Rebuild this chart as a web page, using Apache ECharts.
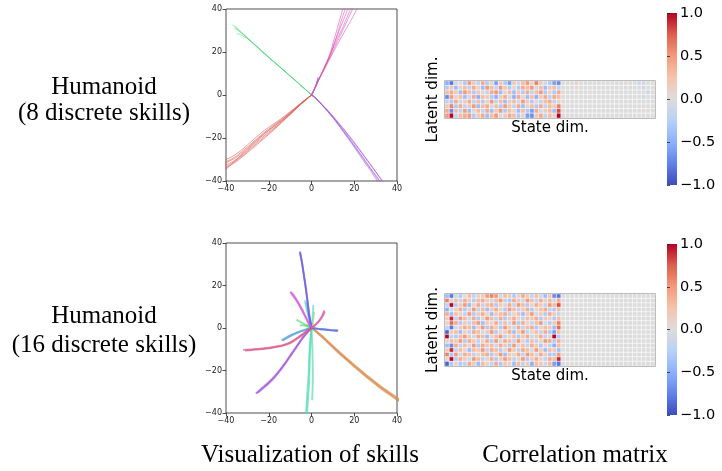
<!DOCTYPE html>
<html><head><meta charset="utf-8">
<script src="https://cdn.jsdelivr.net/npm/echarts/dist/echarts.min.js"></script>
<style>html,body{margin:0;padding:0;background:#fff}#c{width:722px;height:471px}</style>
</head><body><div id="c"></div>
<script>
// ---------- tick labels ----------
const trajTicks = [-40, -20, 0, 20, 40];
const cbTicks = [-1.0, -0.5, 0.0, 0.5, 1.0];
const stateDimCount = 47;

// ---------- texts ----------
const rowLabels = [["Humanoid", "(8 discrete skills)"], ["Humanoid", "(16 discrete skills)"]];
const colTitles = ["Visualization of skills", "Correlation matrix"];

// ---------- skill trajectories, 8 skills (x, y) ----------
const topColors = ['#db5f57','#dbc257','#91db57','#57db80','#57d3db','#5770db','#a157db','#db57b2'];
const topSkill0 = [
 [[0,0],[-2,-1.5],[-5,-3.8],[-8,-6.2],[-12,-9.3],[-16,-12.3],[-20,-15],[-24,-18],[-28,-21.5],[-32,-25],[-36,-28],[-41,-30.5]],
 [[0,0],[-2,-1.6],[-5,-4],[-8,-6.6],[-12,-10],[-16,-13.2],[-20,-16.2],[-24,-19.5],[-28,-23],[-32,-26.5],[-36,-29.5],[-41,-32]],
 [[0,0],[-2,-1.7],[-5,-4.2],[-8,-7],[-12,-10.5],[-16,-14],[-20,-17.2],[-24,-20.5],[-28,-24],[-32,-27.5],[-36,-30.5],[-41,-33]],
 [[0,0],[-2,-1.8],[-5,-4.4],[-8,-7.3],[-12,-11],[-16,-14.8],[-20,-18.3],[-24,-21.8],[-28,-25.2],[-32,-28.5],[-36,-31.5],[-41,-34.5]],
 [[0,0],[-2,-1.6],[-5,-4.1],[-8,-6.8],[-12,-10.3],[-16,-13.5],[-20,-16.5],[-24,-19.8],[-28,-23.5],[-32,-27],[-36,-30.8],[-41,-34]],
 [[0,0],[-2,-1.5],[-5,-3.9],[-8,-6.4],[-12,-9.8],[-16,-12.8],[-20,-15.8],[-24,-19],[-28,-22.5],[-32,-25.8],[-36,-29],[-41,-31.5]],
 [[0,0],[-2,-1.7],[-5,-4.3],[-8,-7.1],[-12,-10.8],[-16,-14.4],[-20,-17.8],[-24,-21.2],[-28,-24.6],[-32,-28],[-36,-31],[-41,-35.5]]
];
const topSkill1 = [[[0,0],[0.5,-0.4],[1,-1],[1.3,-1.6]]];
const topSkill2 = [[[0,0],[0.3,0.6],[0.5,1.3]]];
const topSkill3 = [
 [[0,0],[-4,3.6],[-8,7.2],[-12,10.7],[-16,14],[-20,17.4],[-24,20.9],[-28,24.5],[-32,28.2],[-35,30.8],[-37,32.7]],
 [[0,0],[-4,3.5],[-8,7],[-12,10.5],[-16,14],[-20,17.5],[-24,21],[-28,24.8],[-31,27.5],[-34,29.8],[-36,31]],
 [[0,0],[-4,3.6],[-8,7.1],[-12,10.6],[-16,14.1],[-20,17.6],[-24,21.1],[-27,23.8],[-30,26.2],[-33,28],[-35,28.5]],
 [[0,0],[-4,3.6],[-8,7.2],[-12,10.7],[-16,14.2],[-20,17.7],[-24,21.3],[-28,24.8],[-31,27.5],[-33,29.5],[-36,32.3]]
];
const topSkill4 = [[[0,0],[-0.4,0.5],[-0.8,1.1]]];
const topSkill5 = [
 [[0,0],[0.8,1.5],[1.6,3.5],[2.3,5.5],[2.8,7.5],[3,8.3]],
 [[0,0],[0.9,1.6],[1.7,3.6],[2.4,5.6],[3,7.4],[3.3,8]]
];
const topSkill6 = [
 [[0,0],[1.5,-1],[3,-2.5],[5,-4.7],[7.5,-7.4],[10,-10.3],[12.5,-13.4],[15,-16.6],[17.5,-19.9],[20,-23.3],[22.5,-26.8],[25,-30.3],[27.5,-33.8],[30,-37.2],[32,-40],[33,-41.5]],
 [[0,0],[1.5,-1],[3,-2.5],[5,-4.6],[7.5,-7.2],[10,-10],[12.5,-13],[15,-16],[17.5,-19.2],[20,-22.4],[22.5,-25.7],[25,-29],[27.5,-32.4],[30,-35.8],[33,-40],[34,-41.5]],
 [[0,0],[1.5,-1],[3,-2.6],[5,-4.8],[7.5,-7.6],[10,-10.6],[12.5,-13.9],[15,-17.3],[17.5,-20.8],[20,-24.3],[22.5,-27.9],[25,-31.5],[27.5,-35],[30.5,-39.5],[31.5,-41]],
 [[0,0],[1.5,-1.1],[3,-2.6],[5,-4.7],[7.5,-7.5],[10,-10.4],[12.5,-13.6],[15,-16.9],[17.5,-20.3],[20,-23.7],[22.5,-27.2],[25,-30.7],[27.5,-34.2],[30.5,-38.5],[32.5,-41]],
 [[0,0],[1.5,-1],[3,-2.4],[5,-4.5],[7.5,-7],[10,-9.8],[12.5,-12.7],[15,-15.7],[17.5,-18.8],[20,-22],[22.5,-25.3],[25,-28.7],[27.5,-32.1],[30.5,-36.3],[33.5,-40.2],[35,-41.5]]
];
const topSkill7 = [
 [[0,0],[1,2],[2.2,4.5],[3.5,7.5],[5,10.5],[6.5,14],[8,17.5],[9.2,21],[10.2,24.5],[11.2,28],[12.2,31.5],[13.2,35],[14.2,38.5],[15,41]],
 [[0,0],[1,2],[2.2,4.5],[3.6,7.6],[5.2,10.8],[6.8,14.3],[8.4,17.8],[9.8,21.3],[11,24.8],[12.3,28.2],[13.6,31.6],[15,35],[16.4,38.5],[17.4,41]],
 [[0,0],[1,2],[2.3,4.6],[3.7,7.7],[5.4,11],[7.2,14.6],[9,18.2],[10.6,21.6],[12.2,25],[13.8,28.4],[15.4,31.8],[17,35.2],[18.6,38.6],[19.8,41]],
 [[0,0],[1,2],[2.3,4.6],[3.8,7.8],[5.6,11.2],[7.6,15],[9.5,18.6],[11.3,22],[13.2,25.5],[15.2,29],[17.2,32.5],[19.2,36],[21,39.5],[22,41]],
 [[0,0],[1,2],[2.2,4.5],[3.6,7.7],[5.3,11],[7,14.5],[8.6,18],[10,21.5],[11.6,25],[13.3,28.6],[15,32.3],[16.5,35.8],[18,39.3],[19,41]],
 [[0,0],[1,2],[2.2,4.5],[3.5,7.6],[5,10.8],[6.6,14.2],[8.2,17.6],[9.6,21],[10.8,24.5],[12,28],[13,31.4],[14,34.8],[15.2,38.3],[16.2,41]]
];
const topSkills = [topSkill0, topSkill1, topSkill2, topSkill3, topSkill4, topSkill5, topSkill6, topSkill7];

// ---------- skill trajectories, 16 skills (x, y) ----------
const btmColors = ['#db5f57','#db9157','#dbc257','#c2db57','#91db57','#5fdb57','#57db80','#57dbb2',
                   '#57d3db','#57a1db','#5770db','#7057db','#a157db','#d357db','#db57b2','#db5780'];
const btmSkill0 = [[[0,0],[-0.8,-0.4],[-1.5,-0.9]]];
const btmSkill1 = [
 [[0,0],[1.5,-1],[3,-2.3],[5,-4],[7.5,-6.4],[10,-8.8],[12.5,-11.1],[15,-13.4],[17.5,-15.6],[20,-17.8],[22.5,-19.9],[25,-22],[27.5,-24],[30,-26],[32.5,-28],[35,-29.8],[37.5,-31.5],[40,-33.2],[41,-34]],
 [[0,0],[1.5,-1.1],[3,-2.5],[5,-4.3],[7.5,-6.7],[10,-9.1],[12.5,-11.5],[15,-13.8],[17.5,-16],[20,-18.2],[22.5,-20.4],[25,-22.5],[27.5,-24.5],[30,-26.5],[32.5,-28.5],[35,-30.3],[37.5,-32],[40,-33.8],[41,-34.5]],
 [[0,0],[1.5,-0.9],[3,-2.2],[5,-3.8],[7.5,-6.2],[10,-8.5],[12.5,-10.8],[15,-13],[17.5,-15.2],[20,-17.4],[22.5,-19.5],[25,-21.6],[27.5,-23.6],[30,-25.6],[32.5,-27.5],[35,-29.3],[37.5,-31],[40,-32.7],[41,-33.4]]
];
const btmSkill2 = [[[0,0],[0.5,1],[0.9,2.2]]];
const btmSkill3 = [[[0,0],[0.4,2],[0.8,4],[1.1,6],[1.2,7.5]]];
const btmSkill4 = [[[0,0],[-0.6,0.8],[-1.1,1.7]]];
const btmSkill5 = [[[0,0],[-1.2,1],[-2.5,1.6]]];
const btmSkill6 = [
 [[0,0],[-1.5,0.8],[-3,1.6],[-4.5,2.5],[-6,3.3],[-7,4]],
 [[0,0],[-1.5,0.6],[-3,1.1],[-4.5,1.3],[-5.5,1.2]]
];
const btmSkill7 = [
 [[0,0],[-0.3,-3],[-0.6,-6],[-0.8,-9],[-1,-12],[-1.1,-15],[-1.2,-18],[-1.3,-21],[-1.5,-24],[-1.7,-27],[-1.9,-30],[-2.1,-33],[-2.3,-36],[-2.5,-39],[-2.6,-41]],
 [[0,0],[-0.2,-3],[-0.4,-6],[-0.6,-9],[-0.7,-12],[-0.8,-15],[-0.9,-18],[-1,-21],[-1.1,-24],[-1.2,-27],[-1.4,-30],[-1.6,-33],[-1.8,-36],[-2,-39],[-2.1,-41]],
 [[0,0],[0.2,-4],[0.4,-9],[0.5,-14],[0.6,-19],[0.6,-24],[0.5,-29],[0.3,-34]]
];
const btmSkill8 = [
 [[0,0],[-0.8,3],[-1.6,6],[-2.3,9],[-2.8,11.5],[-3,13]],
 [[0,0],[-0.6,3],[-1.3,6],[-1.9,9],[-2.3,11],[-2.5,12]],
 [[0,0],[0.3,3],[0.6,6],[0.8,9],[0.8,10.7]]
];
const btmSkill9 = [
 [[0,0],[-2,-0.5],[-4,-1.1],[-6,-1.8],[-8,-2.6],[-10,-3.5],[-12,-4.6],[-14,-5.8]],
 [[0,0],[-2,-0.6],[-4,-1.3],[-6,-2],[-8,-2.9],[-10,-3.9],[-12,-5],[-13.5,-6]]
];
const btmSkill10 = [
 [[0,0],[2,-0.2],[4,-0.4],[6,-0.6],[8,-0.8],[10,-1],[12.5,-1.2]],
 [[0,0],[2,-0.3],[4,-0.6],[6,-0.8],[8,-1],[10,-1.2],[12.3,-1.4]]
];
const btmSkill11 = [
 [[0,0],[-0.6,3],[-1.1,6],[-1.6,10],[-2.1,14],[-2.6,18],[-3.1,21.5],[-3.7,25.5],[-4.3,29.5],[-4.9,33],[-5.5,36]],
 [[0,0],[-0.5,3],[-1,6],[-1.5,10],[-2,14],[-2.5,18],[-3,21.5],[-3.6,25.5],[-4.2,29.5],[-4.8,33],[-5.3,35.5]]
];
const btmSkill12 = [
 [[0,0],[-1.5,-1.5],[-3,-3.2],[-4.5,-5],[-6,-7.2],[-7.5,-9.4],[-9,-11.6],[-10.5,-13.8],[-12,-16],[-13.5,-18],[-15,-20],[-16.5,-21.8],[-18,-23.5],[-20,-25.5],[-22,-27.3],[-24,-29],[-26,-30.8]],
 [[0,0],[-1.5,-1.6],[-3,-3.4],[-4.5,-5.3],[-6,-7.5],[-7.5,-9.7],[-9,-11.9],[-10.5,-14.1],[-12,-16.3],[-13.5,-18.4],[-15,-20.4],[-16.5,-22.3],[-18,-24],[-20,-26],[-22,-27.8],[-24,-29.5],[-25.5,-30.6]]
];
const btmSkill13 = [
 [[0,0],[-1.5,2.5],[-3,5.5],[-4.5,8.5],[-6,11.2],[-7.5,13.5],[-9,15.6],[-10,17]],
 [[0,0],[-1.4,2.6],[-2.9,5.7],[-4.4,8.8],[-5.9,11.5],[-7.3,13.9],[-8.7,15.9],[-9.6,16.8]]
];
const btmSkill14 = [
 [[0,0],[1.5,1.2],[3,2.8],[4.3,4.6],[5.3,6.4],[6,8.3]],
 [[0,0],[1.5,1.1],[3,2.6],[4.4,4.3],[5.5,6.1],[6.2,7.8]]
];
const btmSkill15 = [
 [[0,0],[-2,-1.3],[-4,-2.8],[-6,-4.2],[-8,-5.6],[-10,-6.8],[-13,-7.9],[-16,-8.6],[-19,-9.1],[-22,-9.5],[-25,-9.8],[-28,-10.1],[-32,-10.3]],
 [[0,0],[-2,-1.4],[-4,-3],[-6,-4.5],[-8,-5.9],[-10,-7.1],[-13,-8.2],[-16,-8.9],[-19,-9.4],[-22,-9.8],[-25,-10.1],[-28,-10.4],[-31,-10.6]]
];
const btmSkills = [btmSkill0,btmSkill1,btmSkill2,btmSkill3,btmSkill4,btmSkill5,btmSkill6,btmSkill7,
                   btmSkill8,btmSkill9,btmSkill10,btmSkill11,btmSkill12,btmSkill13,btmSkill14,btmSkill15];

// ---------- correlation matrices (values x10), rows = latent dim, cols = state dim ----------
const corr8 = [
 [-5,-8,-1,0,-3,5,2,-2,4,-3,1,-6,2,-3,-6,2,-1,3,5,1,6,2,-1,-3,-6,-7, 0,0,0,1,0,0,0,0,0,0,0,0,0,0,0,0,0,-1,-1,0,0],
 [-3,2,-4,1,3,-2,4,1,-4,5,3,-2,5,2,-3,1,-3,4,3,5,-1,3,-4,2,3,-2, 0,0,0,0,0,0,0,0,0,0,0,0,0,0,0,0,0,0,-1,0,0],
 [3,4,2,-4,5,3,-3,2,1,-2,4,5,-4,1,3,-4,2,-3,4,-2,3,5,-3,1,-3,4, 0,0,0,0,0,0,0,0,0,0,0,0,0,0,0,0,0,0,0,-1,0],
 [-7,5,1,3,-4,-1,4,-5,3,2,-3,-5,2,4,-1,-5,4,1,-4,3,-5,2,4,-2,4,3, 0,0,0,0,0,0,0,0,0,0,0,0,0,0,0,0,0,0,-1,0,0],
 [-2,-3,4,-1,2,4,-2,3,-3,1,5,-2,3,-4,2,3,-1,5,2,-3,1,-2,3,4,-2,1, 0,0,0,0,0,0,0,0,0,0,0,0,0,0,0,0,0,0,0,0,0],
 [2,6,-3,4,-2,2,5,-4,3,4,-1,3,-3,5,2,-2,4,-4,1,3,-3,4,-2,3,2,6, 0,0,0,0,0,0,0,0,0,0,0,0,0,0,0,0,0,0,0,0,0],
 [4,-7,3,-2,5,-4,1,3,-2,4,-4,2,5,-3,3,1,-4,3,-3,-6,4,-1,2,3,-4,8, 0,0,0,0,0,0,0,0,0,0,0,0,0,0,0,0,0,0,0,0,0],
 [5,10,-2,3,4,5,-3,2,4,-4,3,5,-1,2,4,3,-3,1,-6,-7,2,4,-2,3,1,10, 0,0,0,0,0,0,0,0,0,0,0,0,0,0,0,0,0,0,0,0,0]
];
const corr16 = [
 [-4,-8,-1,-3,0,3,-2,1,2,5,6,5,-1,3,2,-3,1,4,2,-2,3,-1,-4,2,-7,-8, 0,0,0,0,0,0,0,0,0,0,0,0,0,0,0,0,0,0,0,0,0],
 [6,1,3,-2,4,2,-3,3,4,2,-1,3,5,-2,-3,4,2,-1,5,3,-2,4,1,3,-1,4, 0,0,0,0,0,0,0,0,0,0,0,0,0,0,0,0,0,0,0,0,0],
 [-2,10,-3,2,5,-4,1,4,-2,3,4,-3,2,1,4,-2,5,3,-3,1,4,2,-2,5,3,8, 0,0,0,0,0,0,0,0,0,0,0,0,0,0,0,0,0,0,0,0,0],
 [-5,-1,2,4,-3,1,5,-2,3,-4,2,4,1,-3,5,3,-2,2,4,-3,1,3,4,-2,-3,3, 0,0,0,0,0,0,0,0,0,0,0,0,0,0,0,0,0,0,0,0,0],
 [4,-4,3,1,-2,5,-3,2,4,1,-4,2,3,4,-2,1,3,-4,2,5,-1,2,-3,4,2,-2, 0,0,0,0,0,0,0,0,0,0,0,0,0,0,0,0,0,0,0,0,0],
 [2,9,-2,5,3,-1,4,-3,1,5,3,-2,4,-3,2,4,1,-2,3,2,4,-3,2,1,-3,3, 0,0,0,0,0,0,0,0,0,0,0,0,0,0,0,0,0,0,0,0,0],
 [1,7,4,-3,2,-2,3,5,-4,2,1,4,-2,3,-1,5,-3,4,1,-2,3,5,-1,-3,2,6, 0,0,0,0,0,0,0,0,0,0,0,0,0,0,0,0,0,0,0,0,0],
 [-2,-8,-1,2,4,3,-4,1,5,-3,4,2,-3,5,2,-1,4,-2,3,4,-3,1,3,2,-4,7, 0,0,0,0,0,0,0,0,0,0,0,0,0,0,0,0,0,0,0,0,0],
 [-9,2,3,-4,1,-2,4,3,-1,2,5,-3,1,2,4,-4,2,5,-2,1,3,-2,4,-3,-6,3, 0,0,0,0,0,0,0,0,0,0,0,0,0,0,0,0,0,0,0,0,0],
 [10,-2,-3,3,5,2,-1,4,3,-4,1,3,5,-2,1,3,-3,2,4,-1,2,4,-2,1,10,-3, 0,0,0,0,0,0,0,0,0,0,0,0,0,0,0,0,0,0,0,0,0],
 [1,3,2,5,-3,4,2,-2,1,4,-3,5,-1,4,3,-2,5,1,-3,3,-2,1,5,4,-3,4, 0,0,0,0,0,0,0,0,0,0,0,0,0,0,0,0,0,0,0,0,0],
 [-4,-7,4,-2,3,1,5,-3,4,2,3,-1,4,2,-3,5,1,3,-2,4,2,-3,1,-2,-5,3, 0,0,0,0,0,0,0,0,0,0,0,0,0,0,0,0,0,0,0,0,0],
 [2,9,-2,3,1,-4,3,2,5,-2,4,3,-3,1,5,2,-2,4,3,-1,5,2,-4,3,2,-4, 0,0,0,0,0,0,0,0,0,0,0,0,0,0,0,0,0,0,0,0,0],
 [6,-3,5,-1,4,3,-2,1,3,4,-3,2,5,-4,2,1,4,-2,5,3,-1,4,2,-3,-3,5, 0,0,0,0,0,0,0,0,0,0,0,0,0,0,0,0,0,0,0,0,0],
 [1,10,-3,4,2,-1,5,3,-2,1,4,-3,2,5,3,-2,1,5,-3,2,4,1,-2,4,3,9, 0,0,0,0,0,0,0,0,0,0,0,0,0,0,0,0,0,0,0,0,0],
 [-9,-3,1,-3,-2,4,2,-4,3,1,-2,4,-3,2,1,-4,3,-2,2,-5,3,2,-1,3,-6,-8, 0,0,0,0,0,0,0,0,0,0,0,0,0,0,0,0,0,0,0,0,0]
];

// ---------- build ----------
const coolwarm = ['#3b4cc0','#6282ea','#8db0fe','#b8d0f9','#dddcdc','#f5c4ac','#f49a7b','#de604d','#b40426'];
const minusFmt = v => String(v).replace('-', '\u2212');
const cbFmt = v => v.toFixed(1).replace('-', '\u2212');
const SANS = 'DejaVu Sans';
const SERIF = 'Liberation Serif';

const L = {
  traj: [{left:226, top:9, width:171, height:172}, {left:226, top:243, width:171, height:170}],
  heat: [{left:445, top:81, width:210, height:37}, {left:445, top:294, width:210, height:72}],
  cbar: [{left:667, top:13, width:10, height:172}, {left:667, top:244, width:10, height:171}]
};

const grids = [], xAxes = [], yAxes = [], series = [];

// trajectory panels
[topSkills, btmSkills].forEach((skills, p) => {
  const colors = p === 0 ? topColors : btmColors;
  grids.push(Object.assign({show:true, borderColor:'#222', borderWidth:0.8, backgroundColor:'#fff'}, L.traj[p]));
  const gi = grids.length - 1;
  const axCommon = () => ({
    type:'value', min:trajTicks[0], max:trajTicks[trajTicks.length-1], interval:20, gridIndex:gi,
    splitLine:{show:false},
    axisLine:{show:false, onZero:false},
    axisTick:{show:true, length:3.5, lineStyle:{color:'#222', width:0.8}},
    axisLabel:{fontSize:8, color:'#222', fontFamily:SANS, margin:4, formatter:minusFmt}
  });
  xAxes.push(Object.assign(axCommon(), {position:'bottom'}));
  yAxes.push(Object.assign(axCommon(), {position:'left'}));
  const ai = xAxes.length - 1;
  skills.forEach((trajs, k) => {
    trajs.forEach(tr => {
      series.push({
        type:'line', xAxisIndex:ai, yAxisIndex:ai, data:tr, showSymbol:false, symbol:'none',
        smooth:0.3, clip:true, silent:true, animation:false,
        lineStyle:{color:colors[k], width: p===0 ? 1 : 1.9, opacity: p===0 ? 0.6 : 0.7}
      });
    });
  });
});

// heatmap panels
const heatSeriesIdx = [];
[corr8, corr16].forEach((rows, p) => {
  grids.push(Object.assign({show:false}, L.heat[p]));
  const gi = grids.length - 1;
  xAxes.push({type:'category', gridIndex:gi, data:Array.from({length:stateDimCount}, (_, i) => String(i)),
    axisLine:{show:false}, axisTick:{show:false}, axisLabel:{show:false}, splitLine:{show:false},
    name:'State dim.', nameLocation:'middle', nameGap:3,
    nameTextStyle:{fontSize:15, fontFamily:SANS, color:'#000', verticalAlign:'top'}});
  yAxes.push({type:'category', gridIndex:gi, inverse:true, data:rows.map((_, i) => String(i)),
    axisLine:{show:false}, axisTick:{show:false}, axisLabel:{show:false}, splitLine:{show:false},
    name:'Latent dim.', nameLocation:'middle', nameGap:4, nameRotate:90,
    nameTextStyle:{fontSize:15, fontFamily:SANS, color:'#000'}});
  const ai = xAxes.length - 1;
  const data = [];
  rows.forEach((r, i) => r.forEach((v, j) => data.push([j, i, v / 10])));
  heatSeriesIdx.push(series.length);
  series.push({type:'heatmap', xAxisIndex:ai, yAxisIndex:ai, data, silent:true, animation:false,
    itemStyle:{borderColor:'#fff', borderWidth:0.6}, emphasis:{disabled:true}});
});

// colorbar axes
[0, 1].forEach(p => {
  grids.push(Object.assign({show:false}, L.cbar[p]));
  const gi = grids.length - 1;
  xAxes.push({type:'value', gridIndex:gi, min:0, max:1, show:false});
  yAxes.push({type:'value', gridIndex:gi, position:'right', min:cbTicks[0], max:cbTicks[cbTicks.length-1], interval:0.5,
    axisLine:{show:false}, splitLine:{show:false},
    axisTick:{show:true, length:3, lineStyle:{color:'#222', width:0.8}},
    axisLabel:{fontSize:14.5, fontFamily:SANS, color:'#000', margin:3, formatter:cbFmt}});
});

// graphics: colorbar gradients, heatmap frames, texts
const graphic = [];
L.cbar.forEach(c => {
  graphic.push({type:'rect', shape:{x:c.left, y:c.top, width:c.width, height:c.height}, silent:true,
    style:{fill:new echarts.graphic.LinearGradient(0, 1, 0, 0,
      coolwarm.map((col, i) => ({offset: i / (coolwarm.length - 1), color: col})))}});
});
L.heat.forEach(h => {
  graphic.push({type:'rect', z:100, shape:{x:h.left-0.5, y:h.top-0.5, width:h.width+1, height:h.height+1}, silent:true,
    style:{fill:'none', stroke:'#bdbdbd', lineWidth:1}});
});
const rowY = [[87, 113], [316, 345]];
rowLabels.forEach((lines, p) => {
  lines.forEach((t, i) => {
    graphic.push({type:'text', x:104, y:rowY[p][i], silent:true,
      style:{text:t, font:'25px "' + SERIF + '"', fill:'#000', align:'center', verticalAlign:'middle'}});
  });
});
[310, 575].forEach((cx, i) => {
  graphic.push({type:'text', x:cx, y:455, silent:true,
    style:{text:colTitles[i], font:'25px "' + SERIF + '"', fill:'#000', align:'center', verticalAlign:'middle'}});
});

const chart = echarts.init(document.getElementById('c'), null, {renderer:'canvas'});
chart.setOption({
  animation:false,
  backgroundColor:'#fff',
  grid:grids, xAxis:xAxes, yAxis:yAxes, series,
  visualMap:[{type:'continuous', show:false, min:-1, max:1, seriesIndex:heatSeriesIdx, inRange:{color:coolwarm}}],
  graphic
});
</script></body></html>
